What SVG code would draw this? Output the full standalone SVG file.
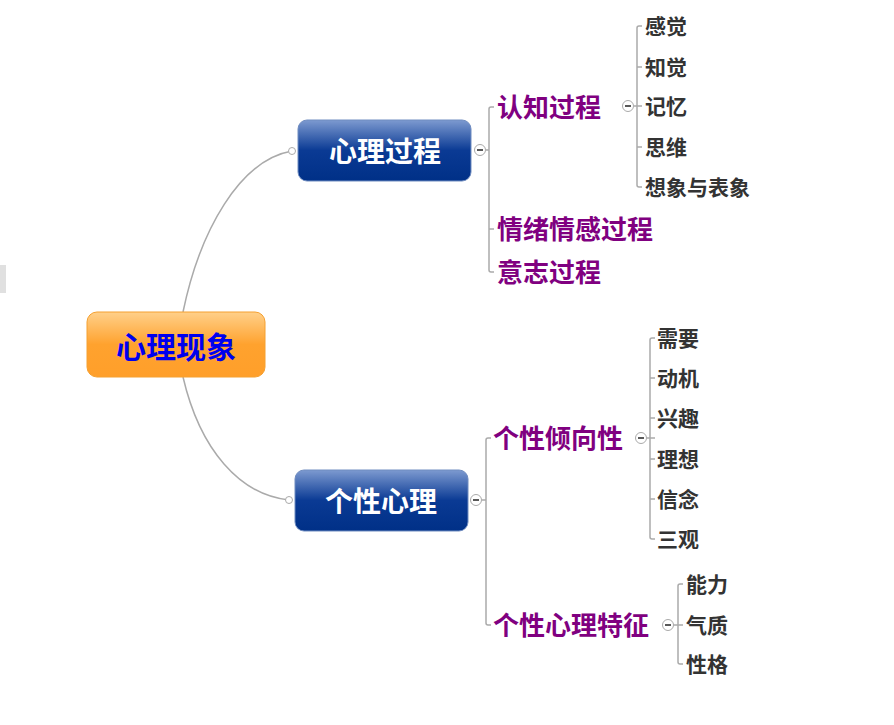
<svg xmlns="http://www.w3.org/2000/svg" width="894" height="725" viewBox="0 0 894 725">
<defs>
<linearGradient id="og" x1="0" y1="0" x2="0" y2="1"><stop offset="0" stop-color="#ffd08a"/><stop offset="0.5" stop-color="#ffa22e"/><stop offset="1" stop-color="#ff9f2a"/></linearGradient>
<linearGradient id="bg" x1="0" y1="0" x2="0" y2="1"><stop offset="0" stop-color="#7d9ad0"/><stop offset="0.5" stop-color="#0a3a94"/><stop offset="1" stop-color="#003087"/></linearGradient>
<g id="col"><circle r="5.5" fill="#fff" stroke="#aaa" stroke-width="1"/><line x1="-3" y1="0" x2="3" y2="0" stroke="#222" stroke-width="1.5"/></g>
</defs>
<style>
.f{font-family:"Noto Sans CJK SC","Noto Sans",sans-serif;font-weight:bold}
.l1{font-size:28px;fill:#fff}
.l2{font-size:26px;fill:#800080}
.l3{font-size:21px;fill:#333}
.ln{fill:none;stroke:#aaa;stroke-width:1.5}
</style>
<rect x="0" y="265" width="6" height="28" fill="#e0e0e0"/>
<g id="connectors">
<path class="ln" stroke="#c8c8c8" stroke-width="2" d="M183,312 C200,230 240,160 292,151"/>
<path class="ln" stroke="#c8c8c8" stroke-width="2" d="M183,377 C200,450 240,495 289,500"/>
<path class="ln" d="M494,107 h-3 q-2,0 -2,2 V270 q0,2 2,2 h3 M489,229 h5 M486,150 h3"/>
<path class="ln" d="M642,26 h-3 q-2,0 -2,2 V185 q0,2 2,2 h3 M637,67 h5 M634,106 h8 M637,147 h5"/>
<path class="ln" d="M491,438 h-3 q-2,0 -2,2 V623 q0,2 2,2 h3 M482,500 h4"/>
<path class="ln" d="M655,338 h-3 q-2,0 -2,2 V537 q0,2 2,2 h3 M650,378 h5 M646,438 h9 M650,418 h5 M650,459 h5 M650,499 h5"/>
<path class="ln" d="M683,584 h-3 q-2,0 -2,2 V662 q0,2 2,2 h3 M673,625 h10"/>
<circle cx="292" cy="151" r="3.5" fill="#fff" stroke="#aaa"/>
<circle cx="289" cy="500" r="3.5" fill="#fff" stroke="#aaa"/>
<use href="#col" x="480" y="150"/>
<use href="#col" x="628" y="106"/>
<use href="#col" x="476" y="500"/>
<use href="#col" x="641" y="438"/>
<use href="#col" x="668" y="625"/>
</g>
<g id="root"><rect x="87" y="312" width="178" height="65" rx="10" fill="url(#og)" stroke="#f5a030"/><text class="f" x="176" y="358" font-size="30" fill="#0000ee" text-anchor="middle">心理现象</text></g>
<g id="n1"><rect x="298" y="120" width="173" height="61" rx="9" fill="url(#bg)" stroke="#6f8cc0"/><text class="f l1" x="385" y="162" text-anchor="middle">心理过程</text></g>
<g id="n2"><rect x="295" y="470" width="173" height="61" rx="9" fill="url(#bg)" stroke="#6f8cc0"/><text class="f l1" x="381" y="512" text-anchor="middle">个性心理</text></g>
<g id="purple">
<text class="f l2" x="497" y="117">认知过程</text>
<text class="f l2" x="497" y="239">情绪情感过程</text>
<text class="f l2" x="497" y="282">意志过程</text>
<text class="f l2" x="493" y="448">个性倾向性</text>
<text class="f l2" x="493" y="635">个性心理特征</text>
</g>
<g id="leaves">
<text class="f l3" x="645" y="34">感觉</text>
<text class="f l3" x="645" y="75">知觉</text>
<text class="f l3" x="645" y="114">记忆</text>
<text class="f l3" x="645" y="155">思维</text>
<text class="f l3" x="645" y="195">想象与表象</text>
<text class="f l3" x="657" y="346">需要</text>
<text class="f l3" x="657" y="386">动机</text>
<text class="f l3" x="657" y="426">兴趣</text>
<text class="f l3" x="657" y="467">理想</text>
<text class="f l3" x="657" y="507">信念</text>
<text class="f l3" x="657" y="547">三观</text>
<text class="f l3" x="686" y="592">能力</text>
<text class="f l3" x="686" y="633">气质</text>
<text class="f l3" x="686" y="672">性格</text>
</g>
</svg>
